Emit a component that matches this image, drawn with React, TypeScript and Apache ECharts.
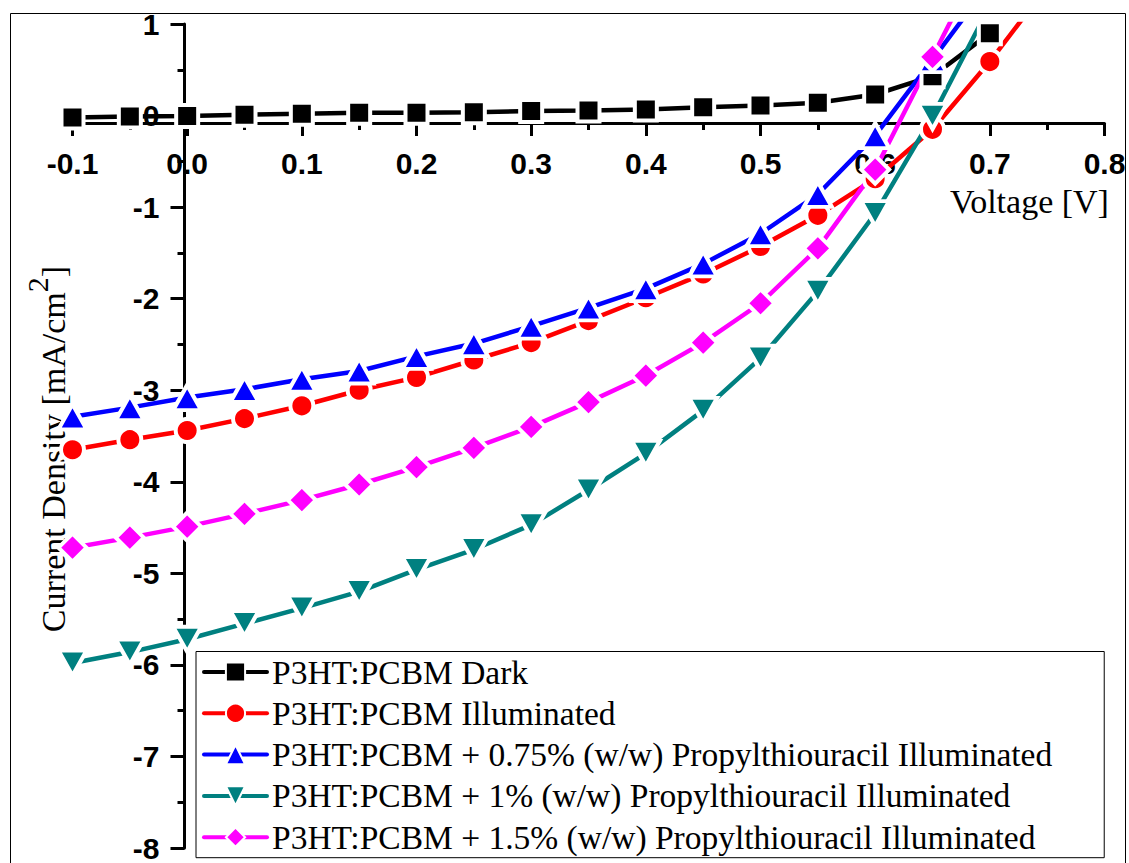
import React, { useEffect, useRef } from 'react';
import * as echarts from 'echarts';

const voltage = [-0.1, -0.05, 0, 0.05, 0.1, 0.15, 0.2, 0.25, 0.3, 0.35, 0.4, 0.45, 0.5, 0.55, 0.6, 0.65, 0.7, 0.75];

const darkValues = [-0.02, -0.01, -0.005, 0.01, 0.02, 0.03, 0.03, 0.035, 0.05, 0.055, 0.065, 0.09, 0.11, 0.14, 0.23, 0.43, 0.9];
const illuminatedValues = [-3.65, -3.54, -3.44, -3.31, -3.17, -3.0, -2.86, -2.67, -2.48, -2.24, -1.99, -1.73, -1.43, -1.09, -0.69, -0.15, 0.59, 1.41];
const ptu075Values = [-3.29, -3.19, -3.08, -2.99, -2.88, -2.79, -2.63, -2.49, -2.3, -2.1, -1.89, -1.62, -1.29, -0.86, -0.22, 0.61, 1.45];
const ptu1Values = [-5.98, -5.86, -5.72, -5.55, -5.38, -5.2, -4.96, -4.74, -4.47, -4.09, -3.69, -3.22, -2.65, -1.92, -1.07, -0.01, 1.2];
const ptu15Values = [-4.72, -4.61, -4.49, -4.35, -4.2, -4.03, -3.84, -3.63, -3.4, -3.13, -2.84, -2.48, -2.05, -1.45, -0.59, 0.64, 1.87];

const seriesNames = [
  'P3HT:PCBM Dark',
  'P3HT:PCBM Illuminated',
  'P3HT:PCBM + 0.75% (w/w) Propylthiouracil Illuminated',
  'P3HT:PCBM + 1% (w/w) Propylthiouracil Illuminated',
  'P3HT:PCBM + 1.5% (w/w) Propylthiouracil Illuminated',
];

const xAxisName = 'Voltage [V]';
const yAxisName = '{n|Current Density [mA/cm}{s|2}{n|]}';

export default function App() {
  const ref = useRef<HTMLDivElement>(null);

  useEffect(() => {
    if (!ref.current) return;
    const chart = echarts.init(ref.current, undefined, { renderer: 'svg' });

    const mk = (
      name: string,
      values: number[],
      color: string,
      symbol: string,
      size: number | number[],
      rotate = 0
    ) => ({
      name,
      type: 'line',
      data: values.map((v, i) => [voltage[i], v]),
      symbol,
      symbolSize: size,
      symbolRotate: rotate,
      showAllSymbol: true,
      clip: true,
      lineStyle: { color, width: 4.5, cap: 'round' },
      itemStyle: { color, borderColor: '#fff', borderWidth: 4 },
      emphasis: { disabled: true },
    });

    const option: any = {
      animation: false,
      backgroundColor: '#fff',
      grid: { left: 72.5, right: 24.5, top: 24, bottom: 9, containLabel: false },
      xAxis: {
        type: 'value',
        min: -0.1,
        max: 0.8,
        interval: 0.1,
        position: 'top',
        offset: -99,
        axisLine: { show: true, onZero: false, lineStyle: { color: '#000', width: 3 } },
        axisTick: { show: true, inside: true, length: 13, lineStyle: { color: '#000', width: 3 } },
        minorTick: { show: true, splitNumber: 2, length: 7, lineStyle: { color: '#000', width: 3 } },
        axisLabel: {
          inside: true,
          margin: 25,
          showMinLabel: true,
          showMaxLabel: true,
          color: '#000',
          fontSize: 30,
          fontWeight: 'bold',
          fontFamily: 'Liberation Sans, Arial, sans-serif',
          formatter: (v: number) => v.toFixed(1),
        },
        splitLine: { show: false },
      },
      yAxis: {
        type: 'value',
        min: -8,
        max: 1,
        interval: 1,
        position: 'left',
        offset: -112,
        axisLine: { show: true, onZero: false, lineStyle: { color: '#000', width: 3 } },
        axisTick: { show: true, inside: false, length: 14, lineStyle: { color: '#000', width: 3 } },
        minorTick: { show: true, splitNumber: 2, length: 7, lineStyle: { color: '#000', width: 3 } },
        axisLabel: {
          margin: 25,
          showMinLabel: true,
          showMaxLabel: true,
          color: '#000',
          fontSize: 30,
          fontWeight: 'bold',
          fontFamily: 'Liberation Sans, Arial, sans-serif',
        },
        splitLine: { show: false },
      },
      legend: {
        orient: 'vertical',
        left: 196,
        top: 651.5,
        itemWidth: 63,
        itemHeight: 24,
        itemGap: 0.3,
        padding: [0, 52, 0, 6],
        borderColor: '#000',
        borderWidth: 1,
        backgroundColor: '#fff',
        lineStyle: { width: 4 },
        textStyle: { color: '#000', fontSize: 33.5, lineHeight: 41, fontFamily: 'Liberation Serif, Times New Roman, serif' },
        data: seriesNames,
      },
      graphic: [
        {
          type: 'rect',
          silent: true,
          z: -10,
          shape: { x: 10.5, y: 13.5, width: 1115, height: 880 },
          style: { fill: 'none', stroke: '#000', lineWidth: 1 },
        },
        {
          type: 'text',
          silent: true,
          x: 950,
          y: 201,
          style: {
            text: xAxisName,
            fill: '#000',
            font: '34px "Liberation Serif", serif',
            align: 'left',
            verticalAlign: 'middle',
          },
        },
        {
          type: 'text',
          silent: true,
          x: 46,
          y: 449,
          rotation: Math.PI / 2,
          style: {
            text: yAxisName,
            align: 'center',
            verticalAlign: 'middle',
            rich: {
              n: { fontSize: 34, fontFamily: 'Liberation Serif', fill: '#000', color: '#000', lineHeight: 48, verticalAlign: 'bottom' },
              s: { fontSize: 30, fontFamily: 'Liberation Serif', fill: '#000', color: '#000', verticalAlign: 'top' },
            },
          },
        },
      ],
      series: [
        mk(seriesNames[0], darkValues, '#000000', 'rect', 22),
        mk(seriesNames[1], illuminatedValues, '#ff0000', 'circle', 23),
        mk(seriesNames[2], ptu075Values, '#0000ff', 'triangle', [28, 25]),
        mk(seriesNames[3], ptu1Values, '#008080', 'triangle', [28, 25], 180),
        mk(seriesNames[4], ptu15Values, '#ff00ff', 'diamond', [28, 28]),
      ],
    };

    chart.setOption(option);
    return () => chart.dispose();
  }, []);

  return (
    <div
      ref={ref}
      style={{ position: 'fixed', left: 0, top: 0, width: 1129, height: 863, background: '#fff' }}
    />
  );
}
